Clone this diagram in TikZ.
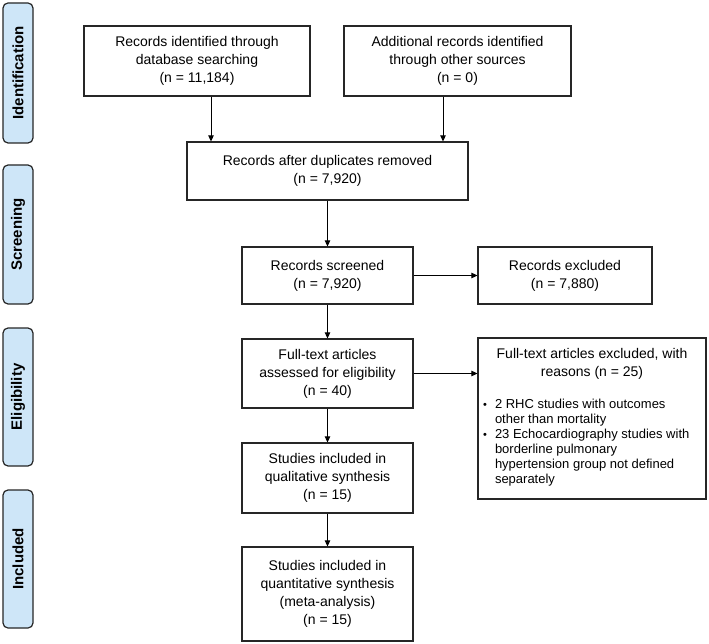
\documentclass[tikz,border=0pt]{standalone}
\usepackage{fontspec}
\setmainfont{Liberation Sans}
\usetikzlibrary{arrows.meta}
\definecolor{phaseblue}{RGB}{206,230,248}
\newcommand{\bulletmark}{\makebox[12pt][l]{\raisebox{0.5pt}{\fontsize{11}{11}\selectfont\textbullet}}}
\begin{document}
\begin{tikzpicture}[x=1pt, y=-1pt,
    box/.style={draw=black!85, line width=1.2pt, align=center, inner sep=0pt, font=\fontsize{14}{18}\selectfont},
    phase/.style={draw=black!85, line width=1.2pt, fill=phaseblue, rounded corners=5pt, rotate=90, minimum height=30pt, inner sep=0pt, font=\fontsize{15}{18}\selectfont\bfseries},
    arr/.style={-{Triangle[length=6pt,width=5.5pt]}, line width=1pt}]
    \useasboundingbox (0,0) rectangle (709,644);

    % Identification
    \node[phase, minimum width=140pt] (ident) at (18,73) {Identification};
    \node[box, minimum width=226pt, minimum height=70pt] (db) at (197,61) {Records identified through\\database searching\\(n = 11,184)};
    \node[box, minimum width=227pt, minimum height=70pt] (other) at (457.5,61) {Additional records identified\\through other sources\\(n = 0)};
    \node[box, minimum width=281pt, minimum height=58pt] (dup) at (327.5,171) {Records after duplicates removed\\(n = 7,920)};

    % Screening
    \node[phase, minimum width=139pt] (screen) at (18,234.5) {Screening};
    \node[box, minimum width=171pt, minimum height=57pt] (scr) at (327.5,275.5) {Records screened\\(n = 7,920)};
    \node[box, minimum width=174pt, minimum height=57pt] (excl) at (565,275.5) {Records excluded\\(n = 7,880)};

    % Eligibility
    \node[phase, minimum width=138pt] (elig) at (18,397) {Eligibility};
    \node[box, minimum width=171pt, minimum height=69pt] (ft) at (327.5,373.5) {Full-text articles\\assessed for eligibility\\(n = 40)};
    \node[box, minimum width=228pt, minimum height=161pt] (ftexcl) at (592,418.5) {Full-text articles excluded, with\\reasons (n = 25)\\[14pt]
        {\fontsize{13}{15}\selectfont\begin{tabular}[t]{@{}l@{}p{206pt}@{}}
            \bulletmark & 2 RHC studies with outcomes\\
             & other than mortality\\
            \bulletmark & 23 Echocardiography studies with\\
             & borderline pulmonary\\
             & hypertension group not defined\\
             & separately
        \end{tabular}}};

    % Included
    \node[phase, minimum width=138pt] (incl) at (18,559) {Included};
    \node[box, minimum width=171pt, minimum height=70pt] (qual) at (327.5,478) {Studies included in\\qualitative synthesis\\(n = 15)};
    \node[box, minimum width=171pt, minimum height=94pt] (quant) at (327.5,594) {Studies included in\\quantitative synthesis\\(meta-analysis)\\(n = 15)};

    % Arrows
    \draw[arr] ([xshift=14pt]db.south) -- ([xshift=14pt]db.south |- dup.north);
    \draw[arr] ([xshift=-14.5pt]other.south) -- ([xshift=-14.5pt]other.south |- dup.north);
    \draw[arr] (dup) -- (scr);
    \draw[arr] (scr) -- (excl);
    \draw[arr] (scr) -- (ft);
    \draw[arr] (ft.east) -- (ft.east -| ftexcl.west);
    \draw[arr] (ft) -- (qual);
    \draw[arr] (qual) -- (quant);
\end{tikzpicture}
\end{document}
